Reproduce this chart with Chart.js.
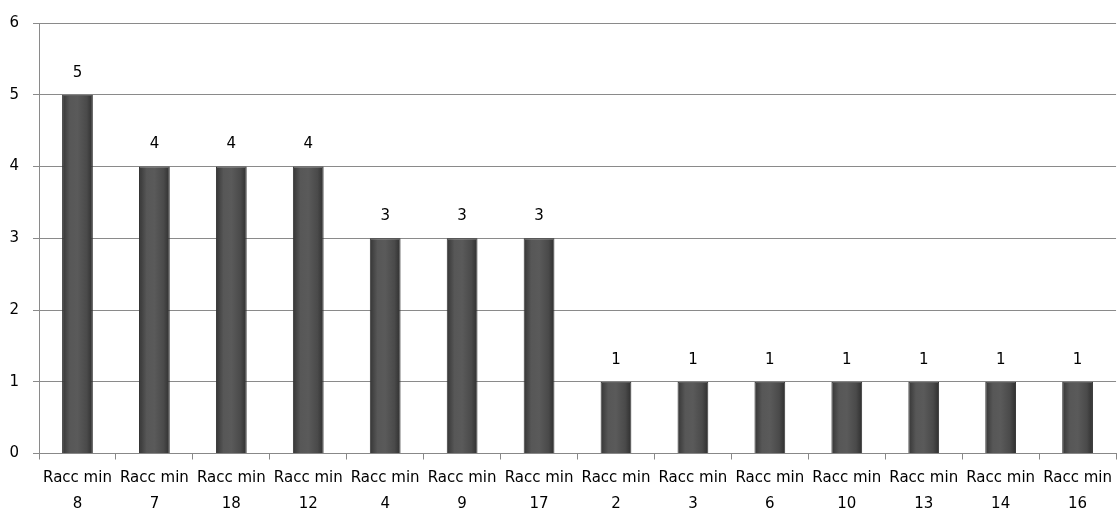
<!DOCTYPE html>
<html>
<head>
<meta charset="utf-8">
<script src="https://cdn.jsdelivr.net/npm/chart.js@4"></script>
<style>
html,body{margin:0;padding:0;background:#fff;}
#wrap{width:1117px;height:524px;position:relative;}
</style>
</head>
<body>
<div id="wrap"><canvas id="c" width="1117" height="524"></canvas></div>
<script>
const categories = [["Racc min","8"],["Racc min","7"],["Racc min","18"],["Racc min","12"],["Racc min","4"],["Racc min","9"],["Racc min","17"],["Racc min","2"],["Racc min","3"],["Racc min","6"],["Racc min","10"],["Racc min","13"],["Racc min","14"],["Racc min","16"]];
const values = [5,4,4,4,3,3,3,1,1,1,1,1,1,1];
const yTicks = [0,1,2,3,4,5,6];

const FONT = "'DejaVu Sans', sans-serif";

const valueLabels = {
  id: 'valueLabels',
  afterDatasetsDraw(chart) {
    const ctx = chart.ctx;
    const meta = chart.getDatasetMeta(0);
    ctx.save();
    ctx.font = '15px ' + FONT;
    ctx.fillStyle = '#000';
    ctx.textAlign = 'center';
    ctx.textBaseline = 'middle';
    meta.data.forEach((bar, i) => {
      ctx.fillText(String(values[i]), bar.x, bar.y - 22);
    });
    ctx.restore();
  }
};

new Chart(document.getElementById('c'), {
  type: 'bar',
  data: {
    labels: categories,
    datasets: [{
      data: values,
      backgroundColor: (ctx) => {
        const chart = ctx.chart;
        const area = chart.chartArea;
        if (!area || !chart.scales.x) return '#4f4f4f';
        const x = chart.scales.x.getPixelForValue(ctx.dataIndex);
        const w = 31;
        const g = chart.ctx.createLinearGradient(x - w/2, 0, x + w/2, 0);
        g.addColorStop(0, '#353535');
        g.addColorStop(0.25, '#575757');
        g.addColorStop(0.5, '#5a5a5a');
        g.addColorStop(0.8, '#4a4a4a');
        g.addColorStop(1, '#2e2e2e');
        return g;
      },
      borderColor: '#333333',
      borderWidth: 1,
      barPercentage: 0.4,
      categoryPercentage: 1.0
    }]
  },
  options: {
    responsive: false,
    animation: false,
    devicePixelRatio: 1,
    layout: { padding: { top: 10, right: 0, bottom: 2, left: 0 } },
    plugins: { legend: { display: false }, tooltip: { enabled: false } },
    scales: {
      x: {
        grid: { offset: true, drawOnChartArea: false, color: '#888', tickLength: 6 },
        border: { color: '#888' },
        ticks: { color: '#000', font: { family: FONT, size: 15, lineHeight: 1.75 }, maxRotation: 0, autoSkip: false, padding: 5 }
      },
      y: {
        min: 0, max: 6,
        afterFit(s) { s.width = 39; },
        afterBuildTicks(s) { s.ticks = yTicks.map(v => ({ value: v })); },
        grid: { color: '#8a8a8a', tickLength: 6 },
        border: { color: '#8a8a8a' },
        ticks: { color: '#000', font: { family: FONT, size: 15 }, padding: 14 }
      }
    }
  },
  plugins: [valueLabels]
});
</script>
</body>
</html>
